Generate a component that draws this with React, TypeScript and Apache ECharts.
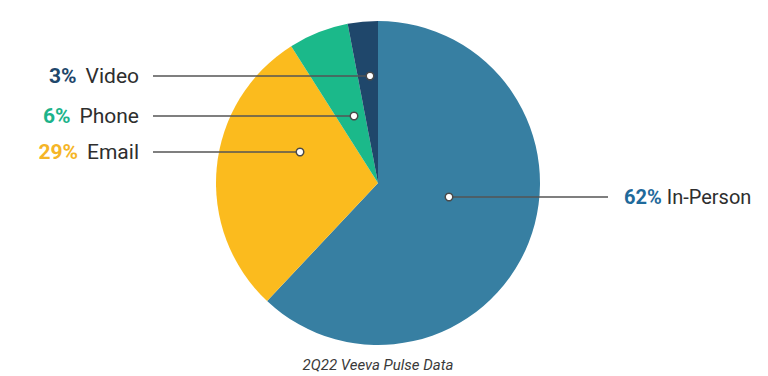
import React, { useEffect, useRef } from "react";
import * as echarts from "echarts";

const categories = ["In-Person", "Email", "Phone", "Video"];
const shares = [62, 29, 6, 3];
const caption = "2Q22 Veeva Pulse Data";

const sliceColors = ["#377fa2", "#fbbb1e", "#1bb98a", "#1f476b"];
const pctColors = ["#1f6a9b", "#f5b527", "#1cb38a", "#1f476b"];

// label layout: dot (anchor inside slice), line end, text anchor
const dots = [
  [449, 197],
  [300, 152],
  [354, 116],
  [370, 76],
];
const lineEnds = [608, 153, 153, 153];
const textX = [624, 139, 139, 139];
const textAlign = ["left", "right", "right", "right"];
const nameGap = [5, 9, 9, 9];
const fontSizes = [20, 21, 21, 21];

export default function App() {
  const ref = useRef<HTMLDivElement>(null);
  useEffect(() => {
    if (!ref.current) return;
    const chart = echarts.init(ref.current, null, { renderer: "svg" });
    const rich: any = {};
    pctColors.forEach((c, i) => {
      rich["p" + i] = { color: c, fontSize: fontSizes[i], fontWeight: "bold", fontFamily: "Roboto" };
      rich["n" + i] = {
        color: "#2e2e2e",
        fontSize: fontSizes[i],
        fontFamily: "Roboto",
        padding: [0, 0, 0, nameGap[i]],
      };
    });
    chart.setOption({
      animation: false,
      backgroundColor: "#ffffff",
      series: [
        {
          type: "pie",
          center: [378, 183],
          radius: 162,
          startAngle: 90,
          clockwise: true,
          avoidLabelOverlap: false,
          data: categories.map((n, i) => ({
            name: n,
            value: shares[i],
            itemStyle: { color: sliceColors[i] },
          })),
          label: {
            show: true,
            position: "outside",
            formatter: (p: any) => `{p${p.dataIndex}|${p.value}%}{n${p.dataIndex}|${p.name}}`,
            rich,
          },
          labelLine: { show: false },
          labelLayout: (p: any) => {
            const i = p.dataIndex;
            return {
              x: textX[i],
              y: dots[i][1],
              align: textAlign[i],
              verticalAlign: "middle",
            };
          },
          emphasis: { disabled: true },
        },
      ],
      graphic: [
        ...dots.map(([x, y], i) => ({
          type: "line",
          shape: { x1: x, y1: y, x2: lineEnds[i], y2: y },
          style: { stroke: "#555555", lineWidth: 1.5 },
          z: 99,
        })),
        ...dots.map(([x, y]) => ({
          type: "circle",
          shape: { cx: x, cy: y, r: 3.8 },
          style: { fill: "#ffffff", stroke: "#4a4a4a", lineWidth: 1.5 },
          z: 100,
        })),
        {
          type: "text",
          x: 378,
          y: 365,
          style: {
            text: caption,
            fill: "#3a3a3a",
            fontSize: 15,
            fontStyle: "italic",
            fontFamily: "Roboto",
            textAlign: "center",
            textVerticalAlign: "middle",
          },
        },
      ],
    });
    return () => chart.dispose();
  }, []);
  return (
    <div
      ref={ref}
      style={{ position: "fixed", left: 0, top: 0, width: 768, height: 376 }}
    />
  );
}
